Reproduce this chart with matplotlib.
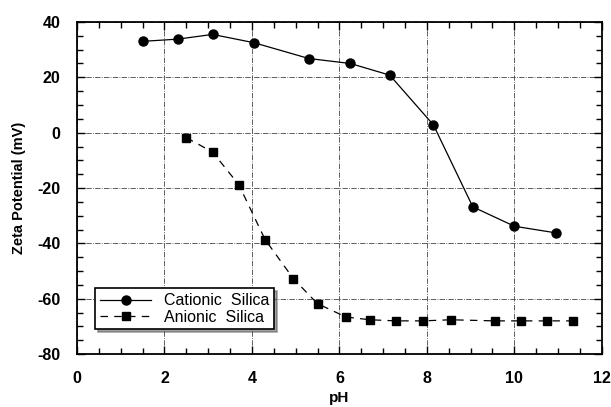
import numpy as np
import matplotlib.pyplot as plt
from matplotlib.ticker import MultipleLocator

plt.rcParams['font.family'] = ['Liberation Sans', 'DejaVu Sans']
plt.rcParams['axes.unicode_minus'] = False

# cationic silica
ph_cat = [1.5, 2.3, 3.1, 4.05, 5.3, 6.25, 7.15, 8.15, 9.05, 10.0, 10.95]
zeta_cat = [33, 33.8, 35.5, 32.5, 26.8, 25, 20.8, 2.8, -26.8, -33.8, -36.2]

# anionic silica
ph_an = [2.5, 3.1, 3.7, 4.3, 4.95, 5.5, 6.15, 6.7, 7.3, 7.9, 8.55, 9.55, 10.15, 10.75, 11.35]
zeta_an = [-1.8, -7, -18.8, -38.6, -52.8, -61.8, -66.6, -67.6, -68, -68, -67.6, -68, -68, -68, -68]

fig = plt.figure(figsize=(6.11, 4.07), dpi=100)
ax = fig.add_axes([0.126, 0.130, 0.859, 0.816])

ax.plot(ph_cat, zeta_cat, color='black', lw=0.9, marker='o', ms=6.5,
        label='Cationic  Silica')
ax.plot(ph_an, zeta_an, color='black', lw=0.9, ls=(0, (6, 5)), marker='s', ms=6,
        label='Anionic  Silica')

ax.set_xlim(0, 12)
ax.set_ylim(-80, 40)
ax.xaxis.set_major_locator(MultipleLocator(2))
ax.xaxis.set_minor_locator(MultipleLocator(0.5))
ax.yaxis.set_major_locator(MultipleLocator(20))
ax.yaxis.set_minor_locator(MultipleLocator(5))
ax.tick_params(which='both', direction='in', top=True, right=True,
               labelsize=11.5, width=1)
ax.tick_params(which='major', length=6)
ax.tick_params(which='minor', length=4)
ax.tick_params(axis='x', pad=12)
ax.tick_params(axis='y', pad=12)
for lab in ax.get_xticklabels() + ax.get_yticklabels():
    lab.set_fontweight('bold')
for s in ax.spines.values():
    s.set_linewidth(1.3)

ax.grid(True, which='major', color='#444444', ls='-.', lw=0.6)

ax.set_xlabel('pH', fontsize=11, fontweight='bold', labelpad=4)
ax.set_ylabel('Zeta Potential (mV)', fontsize=10.5, fontweight='bold', labelpad=8)

leg = ax.legend(loc='lower left', bbox_to_anchor=(0.02, 0.05), fontsize=11.5,
                frameon=True, fancybox=False, shadow=True, handlelength=3.2,
                borderpad=0.3, labelspacing=0.1)
leg.get_frame().set_edgecolor('black')
leg.get_frame().set_linewidth(1.2)
leg.get_frame().set_alpha(1)

fig.savefig('out.png', dpi=100)
